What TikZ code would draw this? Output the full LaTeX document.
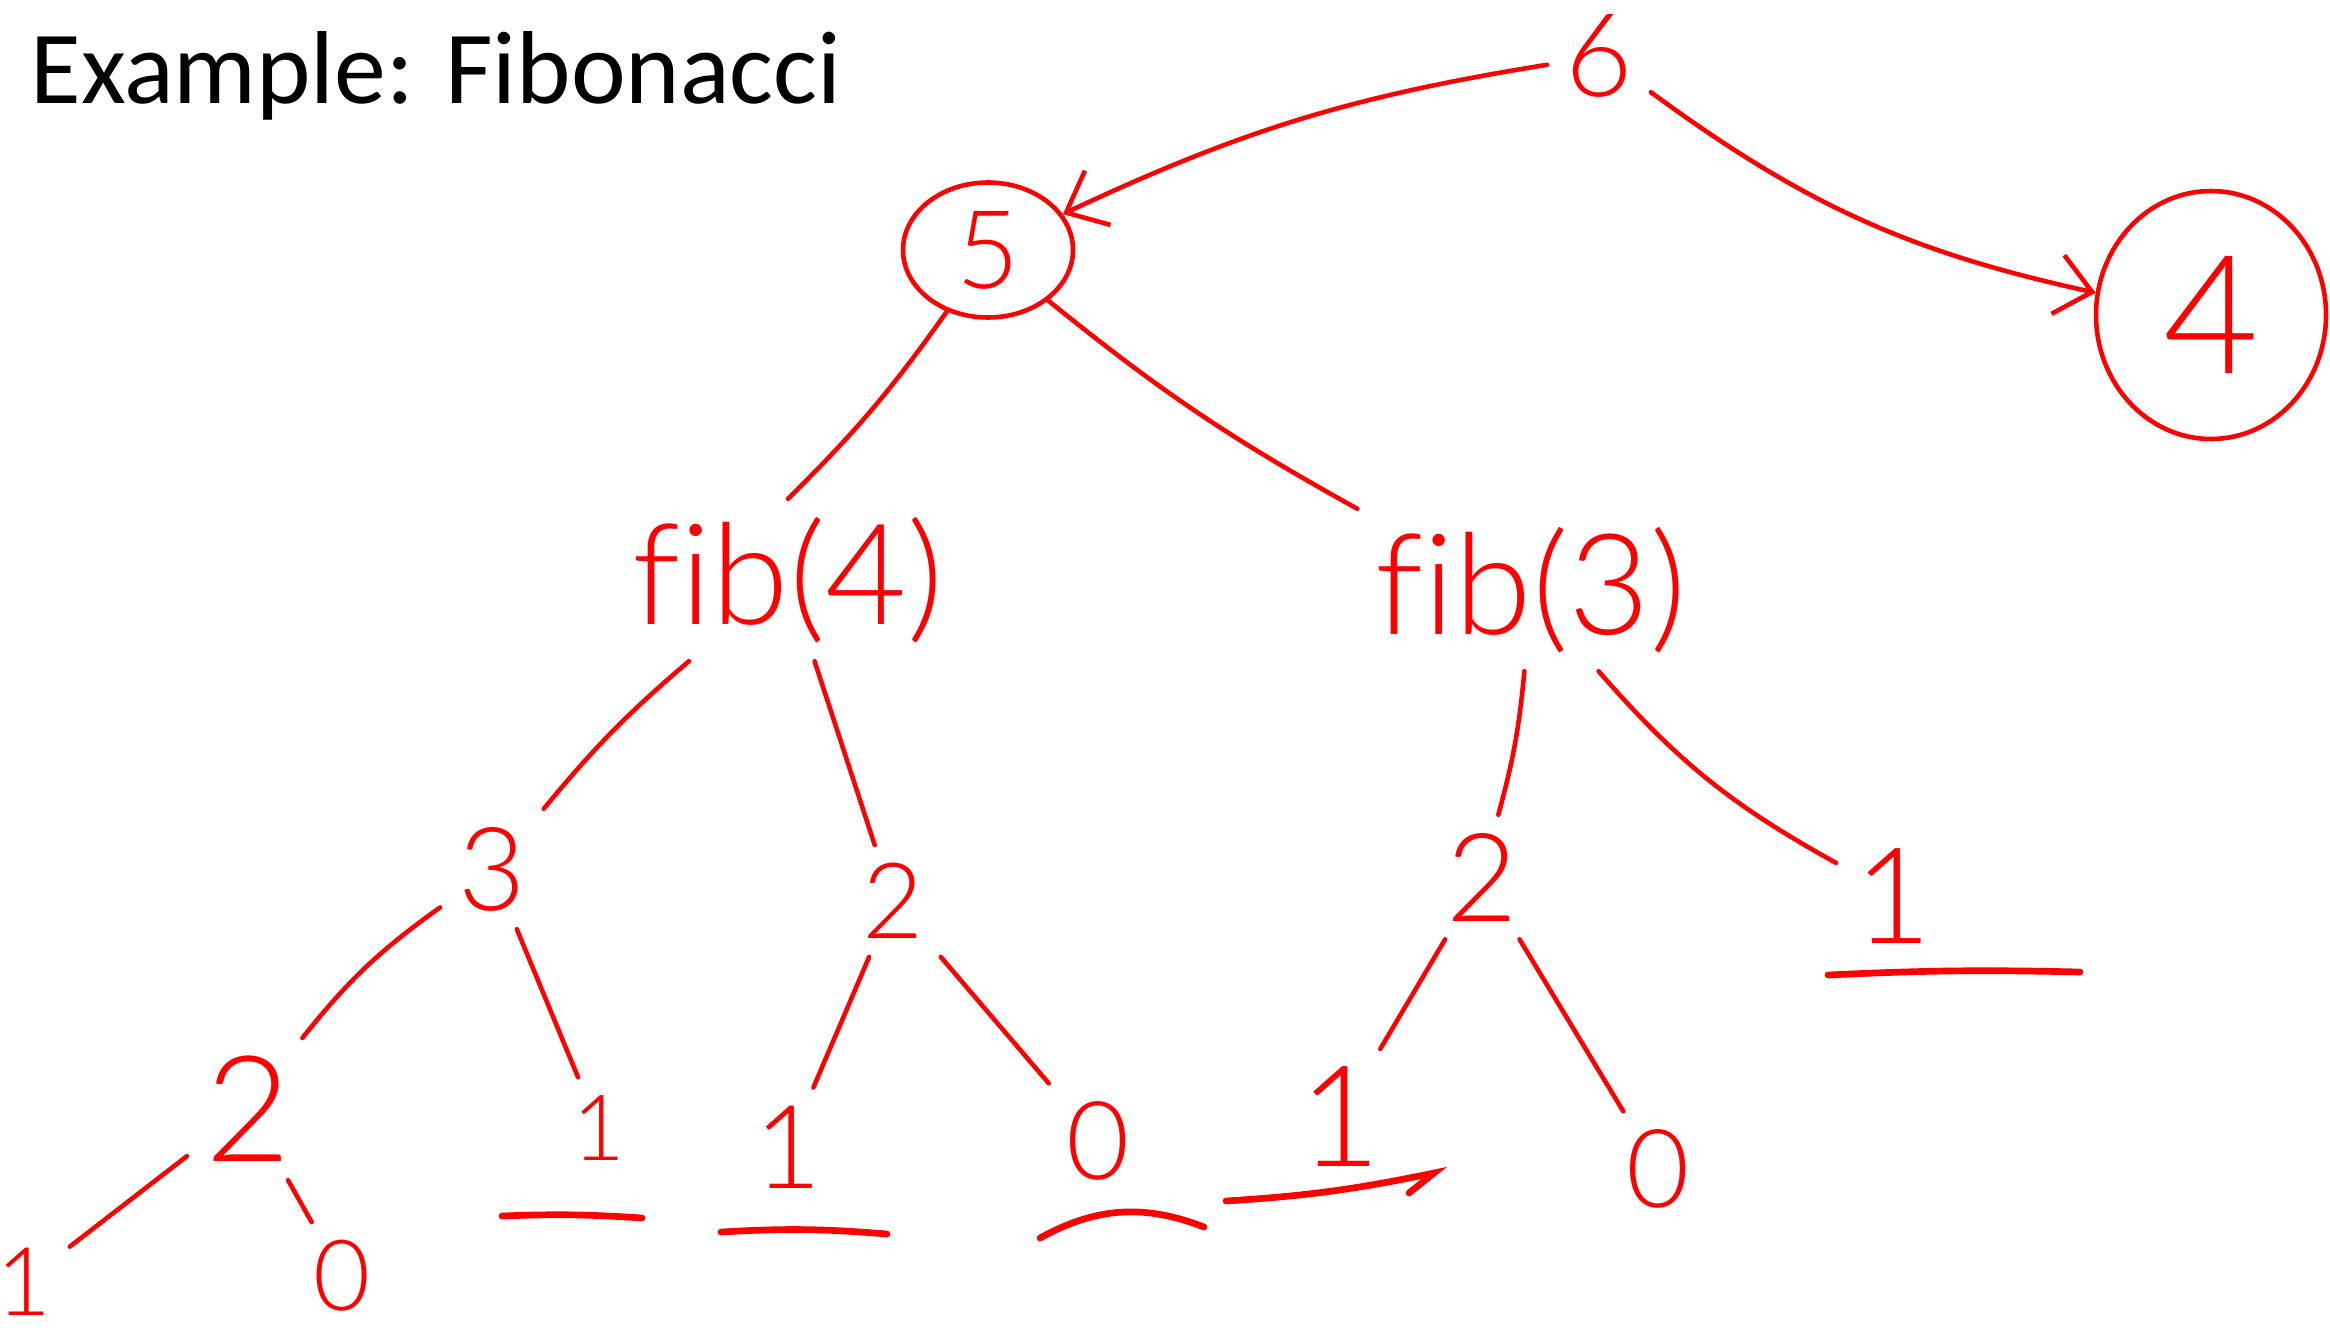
\documentclass[tikz,border=0pt]{standalone}
\usepackage{fontspec}
\setmainfont{Carlito}
\newfontfamily\hand[Ligatures=NoCommon]{Lato Light}
\usetikzlibrary{shapes.geometric,arrows.meta}

\begin{document}
\begin{tikzpicture}[
    num/.style={text=red, font=\hand\fontsize{#1}{#1}\selectfont, inner sep=5pt},
    num/.default=32,
    call/.style={text=red, font=\hand\fontsize{40}{44}\selectfont, inner sep=5pt},
    ring/.style={ellipse, draw=red, line width=1.3pt, inner sep=0pt},
    branch/.style={color=red, line width=1.3pt, line cap=round},
    recur/.style={-{Straight Barb[length=3.5mm,width=6mm]}, color=red, line width=1.3pt, line cap=round},
    base/.style={color=red, line width=1.9pt, line cap=round}
]
    \useasboundingbox (0,0) rectangle (23.30,-13.34);

    \node[anchor=base west, font=\fontsize{29.5}{34}\selectfont] (title) at (0.18,-1.04) {Example: Fibonacci};

    \node[num=33] (six) at (15.99,-0.56) {6};
    \node[num=31, ring, minimum width=1.7cm, minimum height=1.35cm] (five) at (9.88,-2.50) {5};
    \node[num=47, ring, minimum width=2.3cm, minimum height=2.48cm] (four) at (22.11,-3.15) {4};

    \node[call] (fibf) at (7.88,-5.80) {fib(4)};
    \node[call] (fibt) at (15.31,-5.90) {fib(3)};

    \node[num=33] (a3) at (4.92,-8.69) {3};
    \node[num=30] (b2) at (8.93,-9.01) {2};
    \node[num=35] (c2) at (14.82,-8.77) {2};
    \node[num=38] (c1) at (18.93,-8.96) {1};

    \node[num=42] (d2) at (2.48,-11.09) {2};
    \node[num=26] (d1) at (5.99,-11.28) {1};
    \node[num=33] (e1) at (7.88,-11.47) {1};
    \node[num=31] (e0) at (10.98,-11.41) {0};
    \node[num=40] (f1) at (13.40,-11.17) {1};
    \node[num=31] (f0) at (16.58,-11.69) {0};

    \node[num=27] (g1) at (0.24,-12.82) {1};
    \node[num=28] (g0) at (3.42,-12.76) {0};

    % the call fib(6) spawns two calls
    \draw[recur] (six) to[bend right=8] (five);
    \draw[recur] (six) to[bend right=12] (four);

    \draw[branch] (five) to[bend left=5] (fibf.north);
    \draw[branch] (five) to[bend right=5] (fibt.north west);
    \draw[branch] (fibf) to[bend right=5] (a3);
    \draw[branch] (fibf) to (b2);
    \draw[branch] (fibt) to[bend left=5] (c2);
    \draw[branch] (fibt) to[bend right=10] (c1);
    \draw[branch] (a3) to[bend right=8] (d2);
    \draw[branch] (a3) to (d1);
    \draw[branch] (b2) to (e1);
    \draw[branch] (b2) to (e0);
    \draw[branch] (c2) to (f1);
    \draw[branch] (c2) to (f0);
    \draw[branch] (d2) to (g1);
    \draw[branch] (d2) to (g0);

    % base cases underlined
    \draw[base] ([shift={(-0.65,-0.79)}]c1.center) to[bend left=2] ([shift={(1.87,-0.76)}]c1.center);
    \draw[base] ([shift={(-0.97,-0.88)}]d1.center) to[bend left=3] ([shift={(0.43,-0.90)}]d1.center);
    \draw[base] ([shift={(-0.67,-0.85)}]e1.center) to[bend left=4] ([shift={(0.99,-0.87)}]e1.center);
    \draw[base] ([shift={(-0.58,-0.97)}]e0.center) to[bend left=25] ([shift={(1.06,-0.86)}]e0.center);
    \draw[base] ([shift={(-1.14,-0.84)}]f1.center) to[bend right=4] ([shift={(0.94,-0.56)}]f1.center) -- ++(-0.25,-0.2);
\end{tikzpicture}
\end{document}
